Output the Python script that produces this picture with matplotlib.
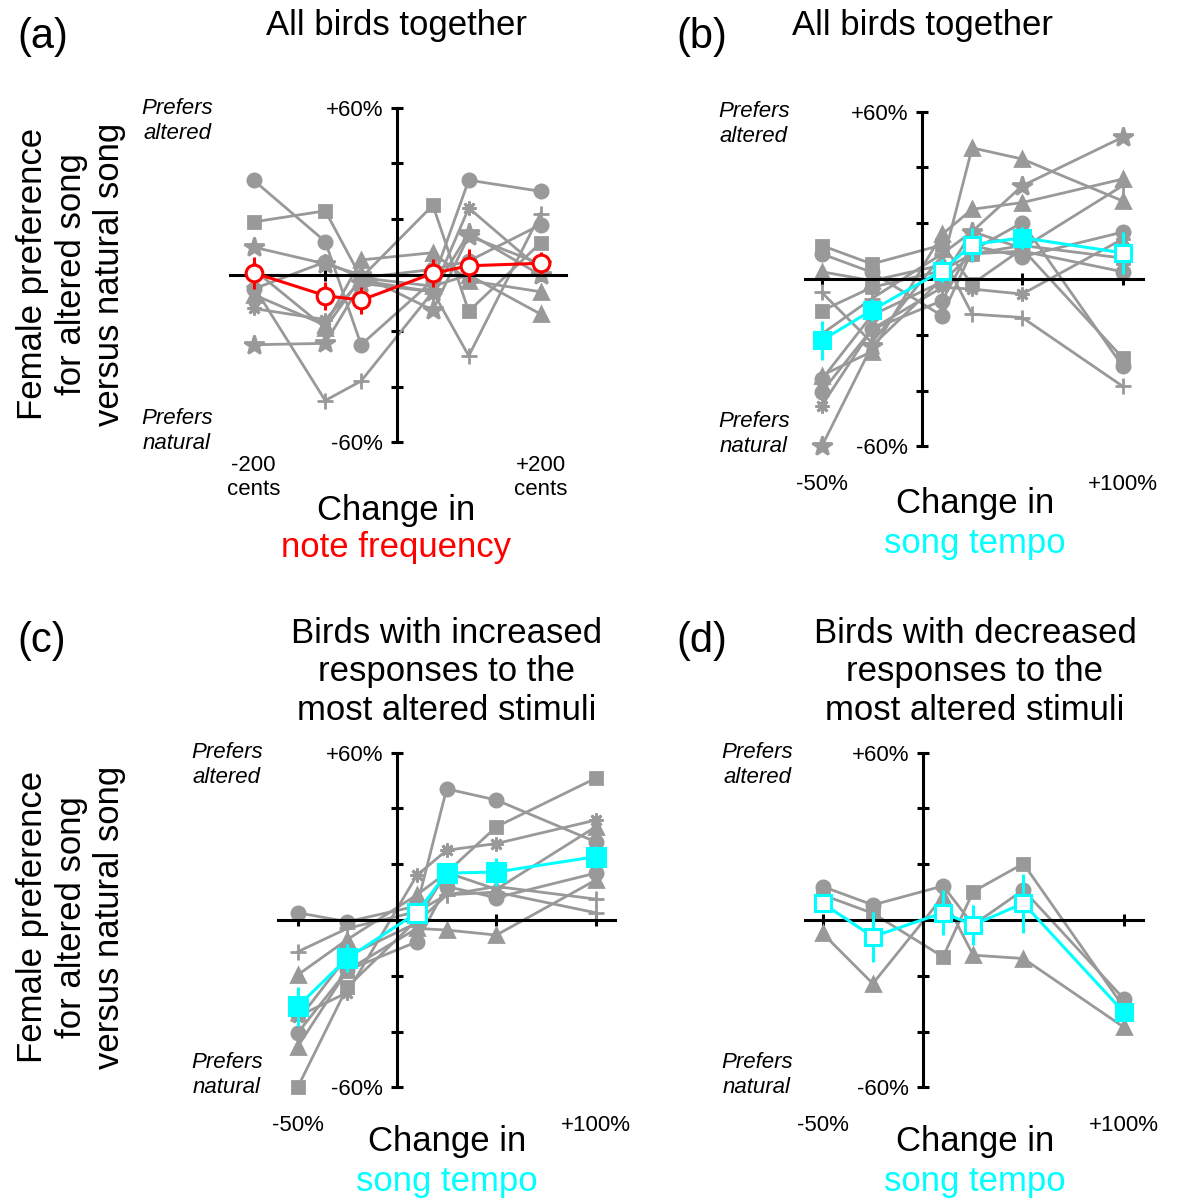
import matplotlib
matplotlib.use('Agg')
import matplotlib.pyplot as plt

W, H = 1178, 1198
plt.rcParams['font.family'] = ['Liberation Sans', 'DejaVu Sans']

GRAY = '#999999'
CYAN = '#00ffff'
RED = '#ff0000'
AST = (8, 2, 0)  # asterisk marker

# ---- panel (a): change in note frequency (cents) ----
freq_x = [-200, -100, -50, 50, 100, 200]
freq_birds = [
    [34, 12, -25, -2, 34, 30],
    [19, 23, -1, 25, -13, 11.5],
    [10, 4, 0, -12.6, 14, 4],
    [-5, 4.7, -1, 2, 5, 18],
    [-12, -16, -2, -6, 24, 2],
    [-25, -24.5, -3, -6, 15, 0],
    [-4, -45, -38, -6, -29, 22],
    [-7, -18, 5.4, 8, -2, -6],
    [2, -19, -1, -4, 0, -14],
]
freq_markers = ['o', 's', '*', 'o', AST, '*', '+', '^', '^']
freq_mean = [0.8, -7.4, -9.0, 0.6, 3.3, 4.2]
freq_err = [5.7, 5.0, 4.8, 5.0, 5.9, 3.9]

# ---- panels (b)-(d): change in song tempo (%) ----
tempo_x = [-50, -25, 10, 25, 50, 100]

# birds with increased responses to the most altered stimuli
inc_birds = [
    [2.6, -0.6, 5, 47, 43, 28],
    [-60, -24, 0, 17, 33.4, 50.8],
    [-34.6, -26, 16, 25, 27.4, 35.8],
    [-19.7, -7, 9, 17, 11, 33.4],
    [-45.4, -18, -3, -3.6, -5.4, 14.3],
    [-11.4, -3, 3, 9, 12, 7.5],
    [-36, -13, -1, 9, 10, 2.6],
    [-40.5, -18, -7.8, 12, 8, 16.8],
]
inc_markers = ['o', 's', AST, '^', '^', '+', '+', 'o']
inc_mean = [-31, -13.7, 2.6, 16.8, 17.2, 22.7]
inc_err = [7, 5, 3, 3, 5, 4]
inc_filled = [True, True, False, True, True, True]

# birds with decreased responses to the most altered stimuli
dec_birds = [
    [12, 5.4, 12.2, -1.8, 10.8, -28.2],
    [9, 2.4, -13.2, 10.2, 20.2, -31.2],
    [-4.8, -22.8, 8.4, -12.6, -13.8, -38.4],
]
dec_markers = ['o', 's', '^']
dec_mean = [6, -6, 2.6, -1.8, 6, -33]
dec_err = [1.5, 9, 8, 7, 10.5, 2]
dec_filled = [False, False, False, False, False, True]

# all birds together (markers as drawn in panel b)
all_markers = ['^', '*', '^', '+', AST, 's', 'o', 'o', 's', 'o', '+']
all_mean = [-22, -11.2, 3, 12.3, 14.8, 9.4]
all_err = [7, 4, 4, 6, 4, 7.5]
all_filled = [True, True, False, False, True, False]

fig = plt.figure(figsize=(W / 100, H / 100), dpi=100)


def fx(x):
    return x / W


def fy(y):
    return 1 - y / H


def make_axes(x0, y0, sx, xlim, xticks, sy=2.79):
    # x0, y0: pixel position of the origin, sx/sy: pixels per data unit
    left = (x0 + xlim[0] * sx) / W
    width = (xlim[1] - xlim[0]) * sx / W
    bottom = 1 - (y0 + 60 * sy) / H
    height = 120 * sy / H
    ax = fig.add_axes([left, bottom, width, height])
    ax.set_xlim(xlim)
    ax.set_ylim(-60, 60)
    ax.patch.set_visible(False)
    for s in ['top', 'right']:
        ax.spines[s].set_visible(False)
    for s in ['left', 'bottom']:
        ax.spines[s].set_position(('data', 0))
        ax.spines[s].set_linewidth(2.2)
    ax.set_yticks(range(-60, 61, 20))
    ax.set_yticklabels(['-60%', '', '', '', '', '', '+60%'], fontsize=16)
    ax.set_xticks(xticks)
    ax.set_xticklabels([])
    ax.tick_params(direction='inout', length=8, width=2.2, pad=6)
    return ax


def marker_size(m):
    return {'o': 9.5, 's': 8.5, '^': 10.5, '*': 14.5, '+': 11}.get(m, 10)


def draw_birds(ax, x, birds, markers):
    for vals, m in zip(birds, markers):
        ax.plot(x, vals, color=GRAY, lw=2.0, marker=m, ms=marker_size(m),
                mec=GRAY, mfc=GRAY, mew=2, clip_on=False, zorder=2)


def draw_mean(ax, x, mean, err, color, marker, filled, ms):
    ax.plot(x, mean, color=color, lw=2.2, zorder=4, clip_on=False)
    ax.errorbar(x, mean, yerr=err, fmt='none', ecolor=color, elinewidth=2.2,
                capsize=0, zorder=4, clip_on=False)
    for xi, yi, f in zip(x, mean, filled):
        ax.plot(xi, yi, marker=marker, ms=ms, mec=color, mew=2.2,
                mfc=color if f else 'white', zorder=5, clip_on=False)


def side_text(xc, y_alt, y_nat):
    fig.text(fx(xc), fy(y_alt), 'Prefers\naltered', ha='center', va='center',
             fontsize=16, style='italic')
    fig.text(fx(xc), fy(y_nat), 'Prefers\nnatural', ha='center', va='center',
             fontsize=16, style='italic')


def x_labels(ax, items, yv=-72):
    for xv, lab in items:
        ax.text(xv, yv, lab, ha='center', va='center', fontsize=16)


ylab = 'Female preference\nfor altered song\nversus natural song'

# (a)
ax = make_axes(397, 275, 0.7175, (-233, 235), [-200, -100, 100, 200])
draw_birds(ax, freq_x, freq_birds, freq_markers)
draw_mean(ax, freq_x, freq_mean, freq_err, RED, 'o', [False] * 6, 12)
x_labels(ax, [(-200, '-200\ncents'), (200, '+200\ncents')], -72.5)
fig.text(fx(17), fy(37), '(a)', fontsize=30, va='center')
fig.text(fx(396), fy(26), 'All birds together', fontsize=25, ha='center', va='center')
fig.text(fx(71), fy(274), ylab, fontsize=25, rotation=90, ha='center', va='center')
side_text(177, 121, 431)
fig.text(fx(396), fy(510), 'Change in', fontsize=25, ha='center', va='center')
fig.text(fx(396), fy(548), 'note frequency', fontsize=25, ha='center', va='center', color=RED)

# (b)
ax = make_axes(922, 279, 2.005, (-58.4, 110.2), [-50, 50, 100])
draw_birds(ax, tempo_x, inc_birds + dec_birds, all_markers)
draw_mean(ax, tempo_x, all_mean, all_err, CYAN, 's', all_filled, 12)
x_labels(ax, [(-50, '-50%'), (100, '+100%')], -73.5)
fig.text(fx(676), fy(37), '(b)', fontsize=30, va='center')
fig.text(fx(923), fy(26), 'All birds together', fontsize=25, ha='center', va='center')
side_text(754, 124, 434)
fig.text(fx(975), fy(503), 'Change in', fontsize=25, ha='center', va='center')
fig.text(fx(975), fy(543), 'song tempo', fontsize=25, ha='center', va='center', color=CYAN)

# (c)
ax = make_axes(397, 920, 1.987, (-59.9, 109.7), [-50, 50, 100])
draw_birds(ax, tempo_x, inc_birds, inc_markers)
draw_mean(ax, tempo_x, inc_mean, inc_err, CYAN, 's', inc_filled, 13)
x_labels(ax, [(-50, '-50%'), (100, '+100%')], -73.5)
fig.text(fx(17), fy(641), '(c)', fontsize=30, va='center')
fig.text(fx(447), fy(672), 'Birds with increased\nresponses to the\nmost altered stimuli',
         fontsize=25, ha='center', va='center')
fig.text(fx(71), fy(917), ylab, fontsize=25, rotation=90, ha='center', va='center')
side_text(227, 765, 1075)
fig.text(fx(447), fy(1142), 'Change in', fontsize=25, ha='center', va='center')
fig.text(fx(447), fy(1182), 'song tempo', fontsize=25, ha='center', va='center', color=CYAN)

# (d)
ax = make_axes(923, 920, 2.007, (-58.8, 109.6), [-50, 50, 100])
draw_birds(ax, tempo_x, dec_birds, dec_markers)
draw_mean(ax, tempo_x, dec_mean, dec_err, CYAN, 's', dec_filled, 12)
x_labels(ax, [(-50, '-50%'), (100, '+100%')], -73.5)
fig.text(fx(676), fy(641), '(d)', fontsize=30, va='center')
fig.text(fx(975), fy(672), 'Birds with decreased\nresponses to the\nmost altered stimuli',
         fontsize=25, ha='center', va='center')
side_text(757, 765, 1075)
fig.text(fx(975), fy(1142), 'Change in', fontsize=25, ha='center', va='center')
fig.text(fx(975), fy(1182), 'song tempo', fontsize=25, ha='center', va='center', color=CYAN)

fig.savefig('out.png', dpi=100)
